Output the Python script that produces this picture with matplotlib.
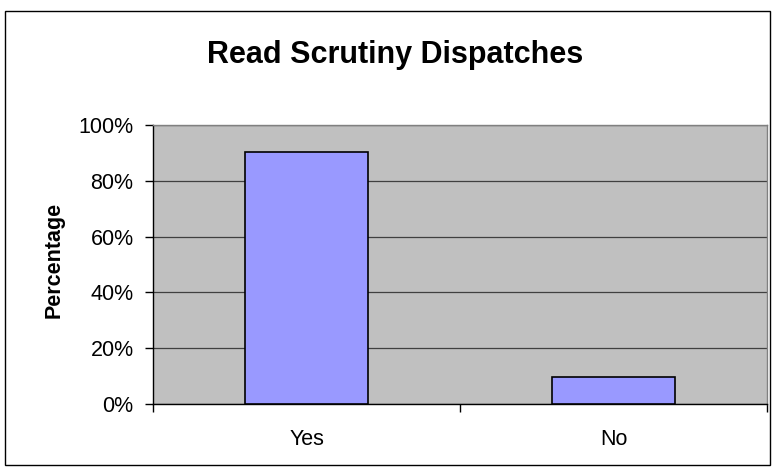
import matplotlib
matplotlib.use("Agg")
import matplotlib.pyplot as plt
from matplotlib.patches import Rectangle
from matplotlib.ticker import FixedLocator, FuncFormatter

categories = ["Yes", "No"]
values = [90.3, 9.7]
yticks = [0, 20, 40, 60, 80, 100]
title = "Read Scrutiny Dispatches"
ylabel = "Percentage"

plt.rcParams['font.family'] = ['Liberation Sans', 'DejaVu Sans']

W, H = 775, 468
fig = plt.figure(figsize=(W / 100, H / 100), dpi=100)
fig.patch.set_facecolor("white")

# outer chart border
fig.add_artist(Rectangle((5 / W, 1 - 465 / H), 765 / W, 454 / H,
                         transform=fig.transFigure, fill=False,
                         edgecolor="black", linewidth=1.0))

left, right, top, bottom = 153, 767, 125, 404
ax = fig.add_axes([left / W, 1 - bottom / H, (right - left) / W, (bottom - top) / H])
ax.set_facecolor("#C0C0C0")

x = list(range(len(categories)))
ax.bar(x, values, width=0.4, color="#9999FF", edgecolor="black", linewidth=1.2, zorder=3)

ax.set_xlim(-0.5, len(categories) - 0.5)
ax.set_ylim(0, 100)
ax.set_yticks(yticks)
ax.yaxis.set_major_formatter(FuncFormatter(lambda v, p: f"{int(v)}%"))
ax.grid(axis="y", color="#404040", linewidth=0.9, zorder=1)

# x ticks at category boundaries, labels at centers
ax.xaxis.set_major_locator(FixedLocator([-0.5 + i for i in range(len(categories) + 1)]))
ax.xaxis.set_major_formatter(FuncFormatter(lambda v, p: ""))
ax.xaxis.set_minor_locator(FixedLocator(x))
ax.set_xticklabels(categories, minor=True)
ax.tick_params(axis="x", which="minor", length=0, labelsize=15.5, pad=18)
ax.tick_params(axis="x", which="major", length=6, width=1, direction="out")
ax.tick_params(axis="y", length=6, width=1, direction="out", labelsize=15.5, pad=8)

for s in ["left", "bottom"]:
    ax.spines[s].set_color("black")
    ax.spines[s].set_linewidth(1.0)
for s in ["top", "right"]:
    ax.spines[s].set_color("#808080")
    ax.spines[s].set_linewidth(1.0)

fig.text(395 / W, 1 - 55 / H, title, ha="center", va="center",
         fontsize=22, fontweight="bold")
fig.text(54 / W, 1 - 260 / H, ylabel, ha="center", va="center",
         rotation=90, fontsize=15.5, fontweight="bold")

fig.savefig("out.png", dpi=100)
